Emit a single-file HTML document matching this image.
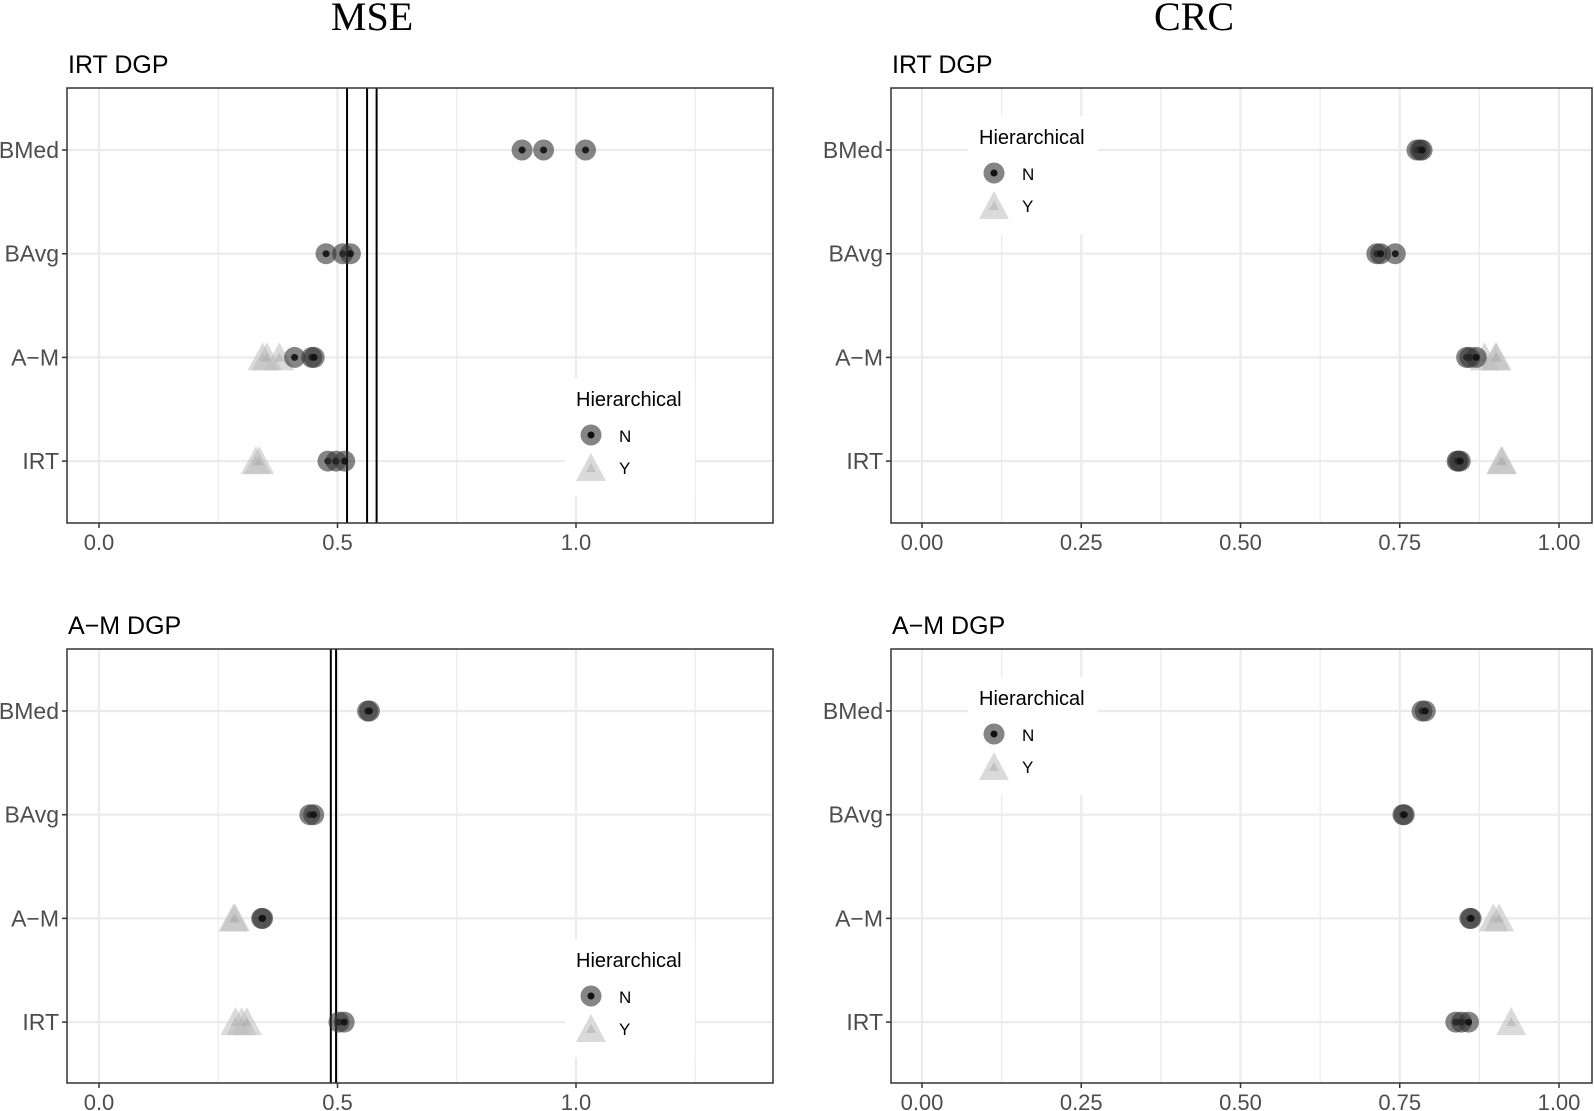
<!DOCTYPE html>
<html><head><meta charset="utf-8"><style>
html,body{margin:0;padding:0;background:#fff}
svg{display:block}
text{font-family:"Liberation Sans",sans-serif}
</style></head><body>
<svg id="fig" width="1594" height="1111" viewBox="0 0 1594 1111">
<text x="372" y="30" text-anchor="middle" style="font-family:'Liberation Serif',serif" font-size="40" fill="#000">MSE</text>
<text x="1194" y="30" text-anchor="middle" style="font-family:'Liberation Serif',serif" font-size="40" fill="#000">CRC</text>
</svg>
<script>
const categories = ["BMed","BAvg","A\u2212M","IRT"];
// MSE IRT DGP
const mseIrtN = [[0.887,0.932,1.02],[0.476,0.511,0.527],[0.41,0.446,0.451],[0.48,0.497,0.515]];
const mseIrtY = [[],[],[0.343,0.352,0.378],[0.329,0.336]];
const mseIrtVlines = [0.52,0.562,0.582];
// MSE A-M DGP
const mseAmN = [[0.563,0.567],[0.442,0.45],[0.341,0.343],[0.503,0.514]];
const mseAmY = [[],[],[0.282,0.285],[0.286,0.299,0.31]];
const mseAmVlines = [0.486,0.497];
// CRC IRT DGP
const crcIrtN = [[0.777,0.782,0.785],[0.714,0.72,0.743],[0.855,0.86,0.87],[0.84,0.842,0.845]];
const crcIrtY = [[],[],[0.883,0.9,0.902],[0.909,0.911]];
// CRC A-M DGP
const crcAmN = [[0.785,0.79],[0.755,0.757],[0.86,0.862],[0.838,0.847,0.858]];
const crcAmY = [[],[],[0.897,0.906],[0.925]];
const mseTicks = [0.0,0.5,1.0];
const mseTickLabels = ["0.0","0.5","1.0"];
const mseMinor = [0.25,0.75,1.25];
const crcTicks = [0,0.25,0.5,0.75,1.0];
const crcTickLabels = ["0.00","0.25","0.50","0.75","1.00"];
const crcMinor = [0.125,0.375,0.625,0.875];

const NS="http://www.w3.org/2000/svg";
const svg=document.getElementById('fig');
function mk(tag,attrs,parent){const e=document.createElementNS(NS,tag);for(const k in attrs)e.setAttribute(k,attrs[k]);(parent||svg).appendChild(e);return e;}

function panel(o){
  const g=mk('g',{});
  
  
  const x=v=>o.x0+(v-o.d0)/(o.d1-o.d0)*(o.x1-o.x0);
  const y=i=>o.rowTop+i*o.rowStep;
  const t=mk('text',{x:o.x0+1,y:o.top-15,'font-size':25,fill:'#000'},g);t.textContent=o.title;
  
  
  mk('rect',{x:o.x0,y:o.top,width:o.x1-o.x0,height:o.bot-o.top,fill:'#fff'},g);
  o.minor.forEach(v=>{mk('line',{x1:x(v),x2:x(v),y1:o.top,y2:o.bot,stroke:'#ebebeb','stroke-width':1.2},g);});
  o.ticks.forEach(v=>{mk('line',{x1:x(v),x2:x(v),y1:o.top,y2:o.bot,stroke:'#ebebeb','stroke-width':2.2},g);});
  categories.forEach((c,i)=>{mk('line',{x1:o.x0,x2:o.x1,y1:y(i),y2:y(i),stroke:'#ebebeb','stroke-width':2.2},g);});
  const lg=mk('g',{},g);
  
  
  mk('rect',{x:o.lx,y:o.ly,width:130,height:118,fill:'#fff'},lg);
  const lt=mk('text',{x:o.lx+11,y:o.ly+28,'font-size':20,fill:'#000'},lg);lt.textContent='Hierarchical';
  const le1=mk('g',{},lg);
  
  
  mk('circle',{cx:o.lx+26,cy:o.ly+57,r:10.5,fill:'#333','fill-opacity':0.6},le1);
  mk('circle',{cx:o.lx+26,cy:o.ly+57,r:3.5,fill:'#111'},le1);
  const n=mk('text',{x:o.lx+54,y:o.ly+64,'font-size':17,fill:'#000'},le1);n.textContent='N';
  const le2=mk('g',{},lg);
  
  
  tri(le2,o.lx+26,o.ly+90);
  const yy=mk('text',{x:o.lx+54,y:o.ly+96,'font-size':17,fill:'#000'},le2);yy.textContent='Y';
  (o.vlines||[]).forEach(v=>{const l=mk('line',{x1:x(v),x2:x(v),y1:o.top,y2:o.bot,stroke:'#000','stroke-width':2},g);
    
    });
  o.Y.forEach((arr,i)=>arr.forEach(v=>{const p=tri(g,x(v),y(i));
    
    }));
  o.N.forEach((arr,i)=>arr.forEach(v=>{const p=mk('g',{},g);
    
    
    mk('circle',{cx:x(v),cy:y(i),r:10.5,fill:'#333','fill-opacity':0.6},p);
    mk('circle',{cx:x(v),cy:y(i),r:3.5,fill:'#111','fill-opacity':0.9},p);}));
  mk('rect',{x:o.x0,y:o.top,width:o.x1-o.x0,height:o.bot-o.top,fill:'none',stroke:'#333','stroke-width':1.5},g);
  categories.forEach((c,i)=>{mk('line',{x1:o.x0-5,x2:o.x0,y1:y(i),y2:y(i),stroke:'#333','stroke-width':1.5},g);
    const tl=mk('text',{x:o.x0-8,y:y(i)+8,'text-anchor':'end','font-size':23,fill:'#4d4d4d'},g);tl.textContent=c;
    
    });
  o.ticks.forEach((v,k)=>{mk('line',{x1:x(v),x2:x(v),y1:o.bot,y2:o.bot+5,stroke:'#333','stroke-width':1.5},g);
    const tl=mk('text',{x:x(v),y:o.bot+27,'text-anchor':'middle','font-size':22,fill:'#4d4d4d'},g);tl.textContent=o.labels[k];
    
    });
}
function tri(parent,cx,cy){
  const p=mk('g',{},parent);
  const w=15,h=13;
  mk('polygon',{points:`${cx-w},${cy+h} ${cx+w},${cy+h} ${cx},${cy-h-2}`,fill:'#bbb','fill-opacity':0.55},p);
  mk('polygon',{points:`${cx-5},${cy+4} ${cx+5},${cy+4} ${cx},${cy-5}`,fill:'#aaa','fill-opacity':0.5},p);
  return p;
}
const mseX={x0:67,x1:773,d0:(67-99)/477,d1:(773-99)/477,ticks:mseTicks,labels:mseTickLabels,minor:mseMinor};
const crcX={x0:891,x1:1592,d0:(891-922)/637,d1:(1592-922)/637,ticks:crcTicks,labels:crcTickLabels,minor:crcMinor};
panel(Object.assign({},mseX,{name:'mse-irt-dgp-panel',title:'IRT DGP',top:88,bot:523,rowTop:150,rowStep:103.7,N:mseIrtN,Y:mseIrtY,vlines:mseIrtVlines,lx:565,ly:378}));
panel(Object.assign({},crcX,{name:'crc-irt-dgp-panel',title:'IRT DGP',top:88,bot:523,rowTop:150,rowStep:103.7,N:crcIrtN,Y:crcIrtY,lx:968,ly:116}));
panel(Object.assign({},mseX,{name:'mse-am-dgp-panel',title:'A\u2212M DGP',top:649,bot:1083,rowTop:711,rowStep:103.7,N:mseAmN,Y:mseAmY,vlines:mseAmVlines,lx:565,ly:939}));
panel(Object.assign({},crcX,{name:'crc-am-dgp-panel',title:'A\u2212M DGP',top:649,bot:1083,rowTop:711,rowStep:103.7,N:crcAmN,Y:crcAmY,lx:968,ly:677}));
</script>
</body></html>
